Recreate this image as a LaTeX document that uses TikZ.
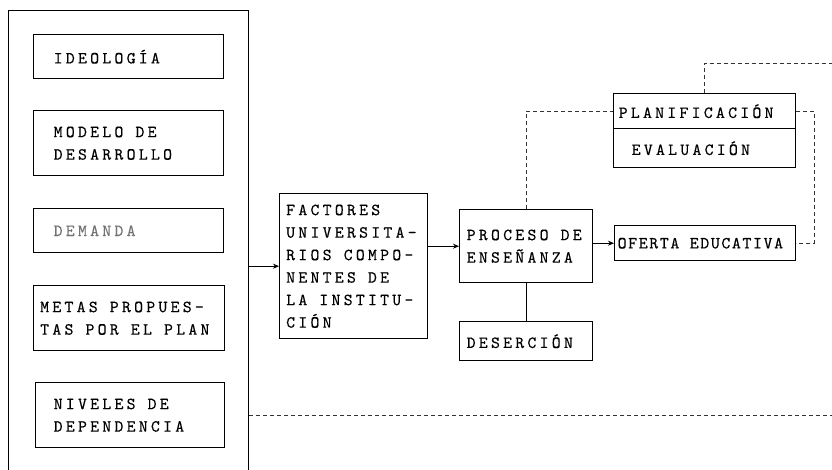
\documentclass[tikz,border=0pt]{standalone}
\usepackage{fontspec}
\usepackage{tikz}
\usetikzlibrary{positioning,arrows.meta}
\newfontfamily\letracaja{lmmono10-regular}[Extension=.otf, LetterSpace=19, FakeBold=0.3]
\newfontfamily\letraoferta{lmmono10-regular}[Extension=.otf, LetterSpace=9.5, FakeBold=0.3]
\newcommand\hueco[1][12.1pt]{\hspace*{#1}}

\begin{document}
\begin{tikzpicture}[
  x=1pt, y=-1pt,
  font=\letracaja\fontsize{17}{22.5}\selectfont,
  caja/.style={draw, line width=1.4pt, anchor=north west, align=left, inner ysep=0pt},
  flecha/.style={-{Stealth[length=6pt, width=5pt]}, line width=1pt},
  enlace/.style={dash pattern=on 4pt off 3pt, line width=0.8pt, draw=black!80}
]
\useasboundingbox (0,0) rectangle (832,469);
\clip (0,0) rectangle (832,469);
% marco izquierdo
\node[draw, line width=1.4pt, anchor=north west, inner sep=0pt, minimum width=240pt, minimum height=480pt] (marco) at (8,10) {};
\node[caja, text width=150pt, inner xsep=20pt, minimum height=44pt] (ideo) at (33,34) {IDEOLOGÍA};
\node[caja, text width=150pt, inner xsep=20pt, minimum height=65pt] (modelo) at (33,110) {MODELO\hueco DE\\DESARROLLO};
\node[caja, text width=150pt, inner xsep=20pt, minimum height=44pt, text=black!55] (demanda) at (33,208) {DEMANDA};
\node[caja, text width=178pt, inner xsep=6.5pt, minimum height=65pt] (metas) at (33,285) {METAS\hueco PROPUES-\\TAS\hueco POR\hueco EL\hueco PLAN};
\node[caja, text width=153pt, inner xsep=18pt, minimum height=65pt] (niveles) at (35,382) {NIVELES\hueco DE\\DEPENDENCIA};
% bloques centrales
\node[caja, text width=135pt, inner xsep=6.5pt, minimum height=145pt] (factores) at (279,193) {FACTORES\\UNIVERSITA-\\RIOS\hueco COMPO-\\NENTES\hueco DE\\LA\hueco INSTITU-\\CIÓN};
\node[caja, text width=119pt, inner xsep=7pt, minimum height=73pt] (proceso) at (459,209) {PROCESO\hueco DE\\ENSEÑANZA};
\node[caja, text width=119pt, inner xsep=7pt, minimum height=39pt] (desercion) at (459,321) {DESERCIÓN};
% bloques derechos
\node[caja, text width=172pt, inner xsep=5pt, minimum height=35pt] (plan) at (613,93) {PLANIFICACIÓN};
\node[caja, text width=146pt, inner xsep=18pt, minimum height=39pt] (eval) at (613,128) {EVALUACIÓN};
\node[caja, text width=175pt, inner xsep=3pt, minimum height=35pt,
  font=\letraoferta\fontsize{17}{22.5}\selectfont] (oferta) at (614,225) {OFERTA\hueco[10.5pt]EDUCATIVA};
\coordinate (finsup) at (832,63);
% conexiones
\draw[flecha] (factores.west -| marco.east) -- (factores.west);
\draw[flecha] (proceso.west -| factores.east) -- (proceso.west);
\draw[flecha] (oferta.west -| proceso.east) -- (oferta.west);
\draw[line width=1pt] (proceso) -- (desercion);
\draw[enlace] (proceso.north) |- (plan.west);
\draw[enlace] (plan.east) -- ++(18,0) |- (oferta.east);
\draw[enlace] (plan.north) |- (finsup);
\draw[enlace] (niveles.east -| marco.east) -- (niveles.east -| finsup);
\end{tikzpicture}
\end{document}
